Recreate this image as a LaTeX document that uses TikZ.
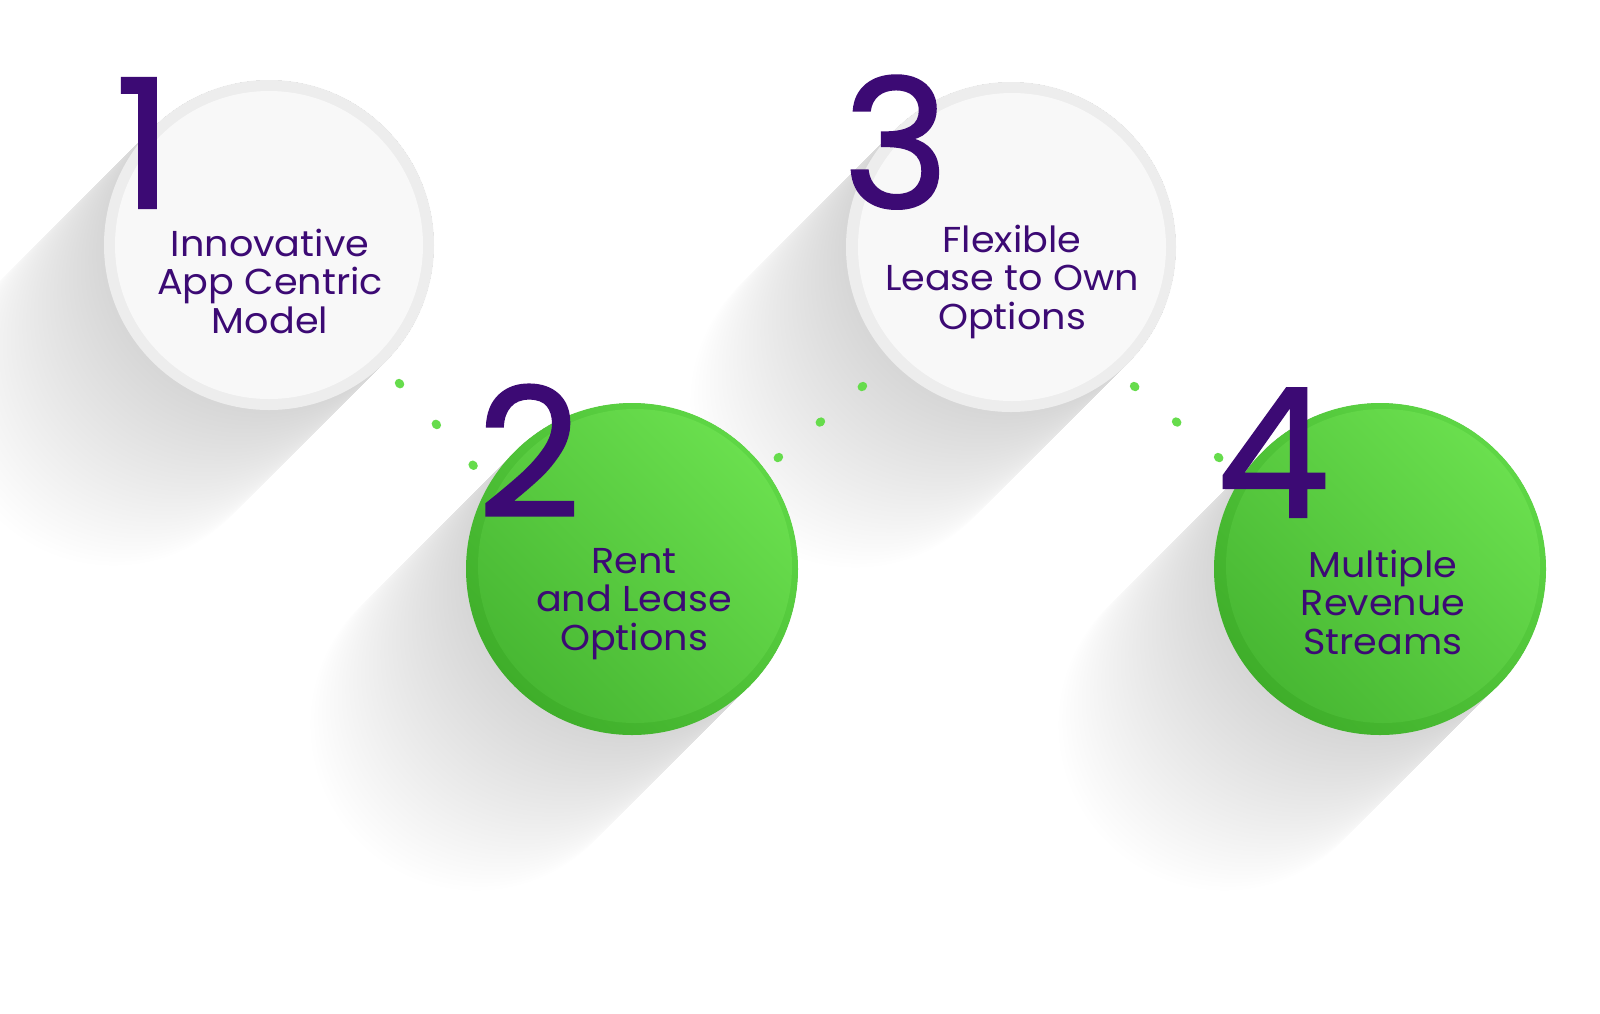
\documentclass[tikz,border=0pt]{standalone}
\usepackage{fontspec}
\setmainfont{Poppins}[FakeStretch=1.06]
\newfontfamily\digitfont{Poppins}[FakeBold=1.2]
\definecolor{ink}{HTML}{3C0A74}
\definecolor{dotgreen}{HTML}{66DC4C}
\definecolor{wrim}{HTML}{EDEDED}
\definecolor{wface}{HTML}{F8F8F8}
\definecolor{grimdark}{HTML}{3FAE2A}
\definecolor{grimlight}{HTML}{5ED645}
\definecolor{gfacedark}{HTML}{48B833}
\definecolor{gfacelight}{HTML}{6ADF4E}
\newcommand\castshadow[3]{%
  \begin{scope}[shift={(#1,#2)}, rotate=225]
    \foreach \k in {1,...,40}{
      \fill[shadowfill] (0pt,-#3) -- ({\k*2.75pt},-#3)
        arc[start angle=-90,end angle=90,radius=#3] -- (0pt,#3)
        arc[start angle=90,end angle=270,radius=#3] -- cycle;
    }
  \end{scope}}
\tikzset{
  shadowfill/.style={black, opacity=0.0055},
  disc/.style={circle, inner sep=0pt, outer sep=0pt, draw=none},
  whiterim/.style={disc, fill=wrim, minimum size=165pt},
  whiteface/.style={disc, fill=wface, minimum size=154pt},
  greenrim/.style={disc, minimum size=166pt, top color=grimlight, bottom color=grimdark, shading angle=-45},
  greenface/.style={disc, minimum size=157pt, top color=gfacelight, bottom color=gfacedark, shading angle=-45},
  numeral/.style={font=\digitfont\fontsize{90}{90}\selectfont, text=ink, inner sep=0pt, anchor=base},
  label/.style={font=\fontsize{18}{19.25}\selectfont, text=ink, align=center, inner sep=0pt, anchor=base},
  dotline/.style={draw=dotgreen, line width=4.2pt, line cap=round, dash pattern=on 0.8pt off 26.7pt, shorten >=-1.2pt},
}
\begin{document}
\begin{tikzpicture}[x=0.5pt,y=-0.5pt]
\useasboundingbox (0,0) rectangle (1600,1013);
\fill[white] (0,0) rectangle (1600,1013);
% long shadows
\castshadow{269}{245}{82.5pt}
\castshadow{632}{569}{83pt}
\castshadow{1011}{247}{82.5pt}
\castshadow{1380}{569}{83pt}
% dotted links
\coordinate (a1) at (399,383); \coordinate (a2) at (472,464);
\coordinate (b1) at (863,386); \coordinate (b2) at (779,457);
\coordinate (d1) at (1134,386); \coordinate (d2) at (1218,457);
\draw[dotline] (a1) -- (a2);
\draw[dotline] (b1) -- (b2);
\draw[dotline] (d1) -- (d2);
% circles
\node[whiterim] (c1) at (269,245) {};
\node[whiteface] (c1f) at (269,245) {};
\node[greenrim] (c2) at (632,569) {};
\node[greenface] (c2f) at (635,566) {};
\node[whiterim] (c3) at (1011,247) {};
\node[whiteface] (c3f) at (1012,247) {};
\node[greenrim] (c4) at (1380,569) {};
\node[greenface] (c4f) at (1383,566) {};
% numerals
\node[numeral] (n1) at (144,208) {1};
\node[numeral] (n2) at (529,517) {2};
\node[numeral] (n3) at (896,208) {3};
\node[numeral] (n4) at (1273,517) {4};
% labels (base = last line)
\node[label] (l1) at (270,333) {Innovative\\App Centric\\Model};
\node[label] (l2) at (634,650) {Rent\\and Lease\\Options};
\node[label] (l3) at (1012,329) {Flexible\\Lease to Own\\Options};
\node[label] (l4) at (1383,654) {Multiple\\Revenue\\Streams};
\end{tikzpicture}
\end{document}
